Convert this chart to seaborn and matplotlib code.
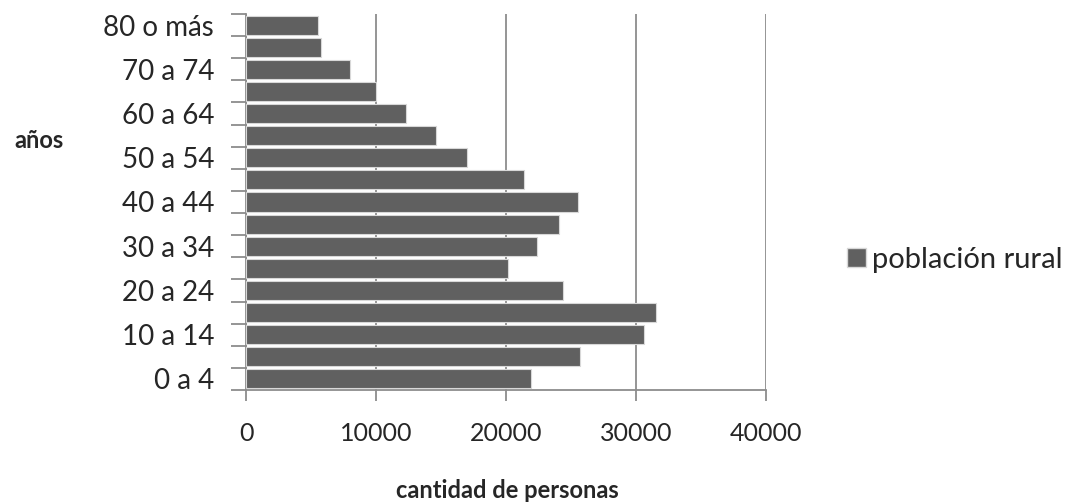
import numpy as np
import pandas as pd
import seaborn as sns
import matplotlib.pyplot as plt
from matplotlib.patches import Patch

# age groups, bottom to top
age_groups = ['0 a 4', '5 a 9', '10 a 14', '15 a 19', '20 a 24', '25 a 29',
              '30 a 34', '35 a 39', '40 a 44', '45 a 49', '50 a 54', '55 a 59',
              '60 a 64', '65 a 69', '70 a 74', '75 a 79', '80 o más']
rural_pop = [21900, 25700, 30600, 31500, 24400, 20150, 22400, 24100, 25500,
             21400, 17000, 14600, 12300, 10000, 8000, 5800, 5500]
x_ticks = [0, 10000, 20000, 30000, 40000]

df = pd.DataFrame({'edad': age_groups, 'poblacion': rural_pop})
order = age_groups[::-1]  # top row first

sns.set_style('white')
plt.rcParams['font.family'] = ['Lato', 'DejaVu Sans']

fig = plt.figure(figsize=(10.73, 5.04), dpi=100)
ax = fig.add_axes([246 / 1073, 1 - 390 / 504, 520 / 1073, 376 / 504])

bar_color = '#606060'
sns.barplot(data=df, y='edad', x='poblacion', order=order, orient='h',
            color=bar_color, width=0.86, edgecolor='#d8d8d8', linewidth=0.8,
            saturation=1, ax=ax, zorder=3)

ax.set_xlim(0, 40000)
ax.set_ylim(len(order) - 0.5, -0.5)
ax.set_xticks(x_ticks)
ax.set_xticklabels([str(v) for v in x_ticks], fontsize=18)
ax.grid(axis='x', color='#8c8c8c', linewidth=1.3, zorder=0)
ax.grid(axis='y', visible=False)

# labels only on every other group, ticks at category boundaries
pos = np.arange(len(order))
ax.set_yticks(pos)
ax.set_yticklabels([lab if i % 2 == 0 else '' for i, lab in enumerate(order)],
                   fontsize=20)
ax.tick_params(axis='y', length=0, pad=23)
ax.set_yticks(np.arange(-0.5, len(order), 1), minor=True)
ax.tick_params(axis='y', which='minor', length=11, width=1.3, color='#8c8c8c',
               direction='out', left=True)
ax.tick_params(axis='x', length=8, width=1.3, color='#8c8c8c', pad=15,
               direction='out', bottom=True)

for side in ['top', 'right']:
    ax.spines[side].set_visible(False)
for side in ['left', 'bottom']:
    ax.spines[side].set_color('#8c8c8c')
    ax.spines[side].set_linewidth(1.3)

ax.set_xlabel('')
ax.set_ylabel('')
fig.text(39 / 1073, 1 - 140 / 504, 'años', fontsize=17, fontweight='bold',
         ha='center', va='center')
fig.text(507 / 1073, 1 - 490 / 504, 'cantidad de personas', fontsize=17,
         fontweight='bold', ha='center', va='center')

handle = Patch(facecolor=bar_color, edgecolor='#d8d8d8', label='población rural')
fig.legend(handles=[handle], loc='center left',
           bbox_to_anchor=(847 / 1073, 1 - 260 / 504), frameon=False,
           borderpad=0, borderaxespad=0, fontsize=21,
           handlelength=0.65, handleheight=0.65, handletextpad=0.2)

fig.savefig('out.png', dpi=100)
